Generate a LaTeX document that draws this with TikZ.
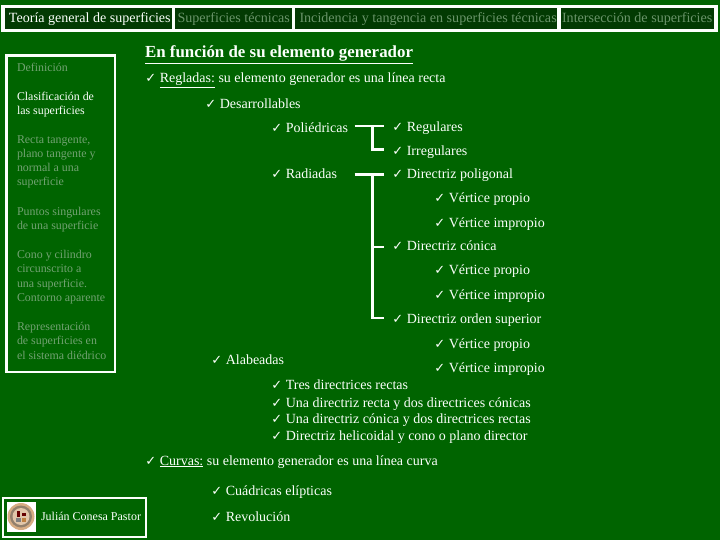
\documentclass[tikz,border=0pt]{standalone}
\usepackage{fontspec}
\setmainfont{Liberation Serif}
\newfontfamily\ckfont{DejaVu Sans}
\definecolor{bgg}{HTML}{006400}
\definecolor{cell}{HTML}{023A02}
\definecolor{dimt}{HTML}{72A272}
\definecolor{tabt}{HTML}{6A946A}
\definecolor{offw}{HTML}{FBFFFB}
\newcommand{\ck}{\makebox[13.8pt][l]{\hspace{-0.6pt}\ckfont\fontsize{13}{10}\selectfont ✓}}
\tikzset{
 x=1pt,y=-1pt,
 every node/.style={inner sep=0pt,outer sep=0pt,anchor=base west,text=offw,font=\fontsize{14}{14}\selectfont},
 frame/.style={draw=offw,line width=2.8pt},
 tabcell/.style={fill=cell},
 tabtxt/.style={font=\fontsize{14.1}{14}\selectfont,text=tabt},
 tabon/.style={font=\fontsize{14.05}{14}\selectfont,text=offw},
 side/.style={font=\fontsize{11.9}{14.3}\selectfont,text=dimt,align=left},
 sideon/.style={font=\fontsize{11.9}{14.3}\selectfont,text=offw,align=left},
 tie/.style={draw=offw,line width=2.6pt},
 titletxt/.style={font=\fontsize{16.9}{18}\selectfont\bfseries},
}
\begin{document}
\begin{tikzpicture}
\useasboundingbox (0,0) rectangle (720,540);
\fill[bgg] (0,0) rectangle (720,540);
% tab bar
\draw[frame,fill=offw] (2.5,6) rectangle (717,31);
\fill[tabcell] (4.5,8) rectangle (172,29);
\fill[tabcell] (175,8) rectangle (292,29);
\fill[tabcell] (295,8) rectangle (557,29);
\fill[tabcell] (561,8) rectangle (714,29);
\node[tabon] (t1) at (9,22.5) {Teoría general de superficies};
\node[tabtxt] (t2) at (177.5,22.5) {Superficies técnicas};
\node[tabtxt] (t3) at (299.5,22.5) {Incidencia y tangencia en superficies técnicas};
\node[tabtxt] (t4) at (562,22.5) {Intersección de superficies};
% side panel
\draw[frame] (6.5,55.5) rectangle (115,372);
\node[side] (s1) at (17,72) {Definición};
\node[sideon,anchor=north west] (s2) at (17,92.3) {Clasificación de\\las superficies};
\node[side,anchor=north west] (s3) at (17,135.3) {Recta tangente,\\plano tangente y\\normal a una\\superficie};
\node[side,anchor=north west] (s4) at (17,207.3) {Puntos singulares\\de una superficie};
\node[side,anchor=north west] (s5) at (17,250.3) {Cono y cilindro\\circunscrito a\\una superficie.\\Contorno aparente};
\node[side,anchor=north west] (s6) at (17,322.3) {Representación\\de superficies en\\el sistema diédrico};
% footer box
\draw[frame] (3,498) rectangle (146,537);
\fill[white] (7,502) rectangle (36,532);
\fill[white!35!brown] (21,516.5) circle (13.5);
\fill[gray!70!brown] (21,516.5) circle (11);
\fill[white!55!brown] (21,516.5) circle (8.5);
\fill[red!40!black] (17,511) rectangle (20,517);
\fill[red!40!black] (22,513) rectangle (26,516);
\fill[gray] (16,518) rectangle (21,522);
\fill[brown] (22,518) rectangle (26,522);
\node[font=\fontsize{12}{14}\selectfont] (author) at (41,520) {Julián Conesa Pastor};
% main text
\node[titletxt] (title) at (145,58) {\underline{En función de su elemento generador}};
\node (regl) at (146,83) {\ck\underline{Regladas:} su elemento generador es una línea recta};
\node (desa) at (206,109) {\ck Desarrollables};
\node (poli) at (272,133) {\ck Poliédricas};
\node (radi) at (272,179) {\ck Radiadas};
\node (regu) at (393,131.5) {\ck Regulares};
\node (irre) at (393,155.5) {\ck Irregulares};
\node (dpol) at (393,179) {\ck Directriz poligonal};
\node (vp1) at (435,203) {\ck Vértice propio};
\node (vi1) at (435,227) {\ck Vértice impropio};
\node (dcon) at (393,251) {\ck Directriz cónica};
\node (vp2) at (435,274) {\ck Vértice propio};
\node (vi2) at (435,299) {\ck Vértice impropio};
\node (dord) at (393,323) {\ck Directriz orden superior};
\node (vp3) at (435,348) {\ck Vértice propio};
\node (vi3) at (435,372) {\ck Vértice impropio};
\node (alab) at (212,364.5) {\ck Alabeadas};
\node (tres) at (272,389) {\ck Tres directrices rectas};
\node (una1) at (272,407) {\ck Una directriz recta y dos directrices cónicas};
\node (una2) at (272,423) {\ck Una directriz cónica y dos directrices rectas};
\node (heli) at (272,440) {\ck Directriz helicoidal y cono o plano director};
\node (curv) at (146,465) {\ck\underline{Curvas:} su elemento generador es una línea curva};
\node (cuad) at (212,495) {\ck Cuádricas elípticas};
\node (revo) at (212,521) {\ck Revolución};
% connectors
\coordinate (pa) at (354.5,126);
\coordinate (pb) at (384,126);
\coordinate (pj) at (372.5,126);
\coordinate (pc) at (384,149.5);
\draw[tie] (pa) -- (pb);
\draw[tie] (pj) |- (pc);
\coordinate (ra) at (354.5,174.5);
\coordinate (rb) at (384,174.5);
\coordinate (rj) at (372.5,174.5);
\coordinate (rm) at (372.5,247);
\coordinate (rc) at (384,247);
\coordinate (rd) at (384,318);
\draw[tie] (ra) -- (rb);
\draw[tie] (rj) |- (rd);
\draw[tie] (rm) -- (rc);
\end{tikzpicture}
\end{document}
